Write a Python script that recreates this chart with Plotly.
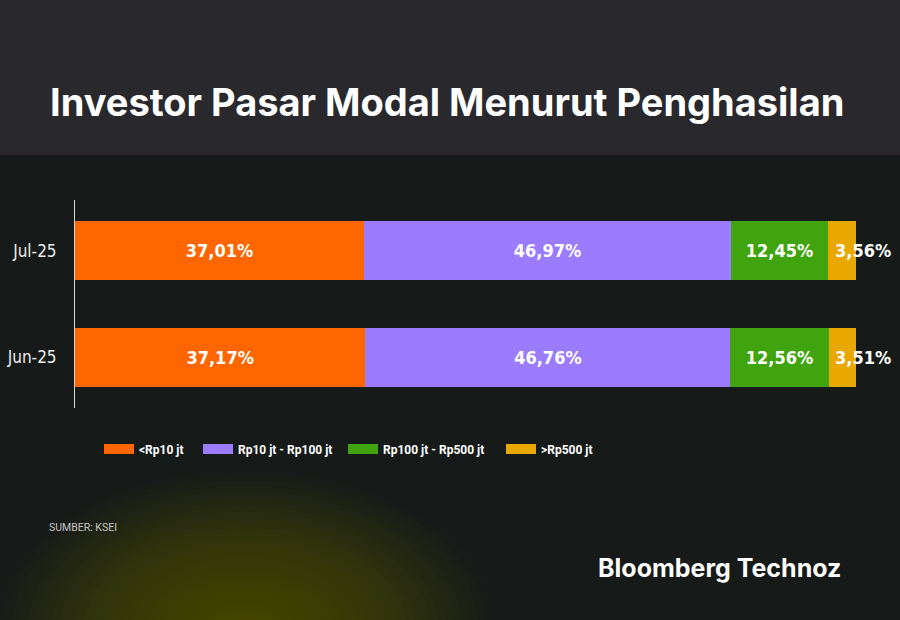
import plotly.graph_objects as go

categories = ["Jun-25", "Jul-25"]
series_names = ["<Rp10 jt", "Rp10 jt - Rp100 jt", "Rp100 jt - Rp500 jt", ">Rp500 jt"]
series_values = [
    [37.17, 37.01],
    [46.76, 46.97],
    [12.56, 12.45],
    [3.51, 3.56],
]
colors = ["#ff6600", "#9b7cfe", "#3fa40d", "#e8a800"]

def fmt(v):
    return f"{v:.2f}".replace(".", ",") + "%"

fig = go.Figure()

BG = "#161a19"
HEADER = "#29282d"
COND = "Liberation Sans Narrow, DejaVu Sans Condensed, Roboto Condensed, Arial Narrow, sans-serif"
LABEL_FONT = dict(family=COND, size=18, color="white", weight="bold")

legend_x = [99, 198, 343, 501]  # pixel starts of legend entries
legend_names = ["legend", "legend2", "legend3", "legend4"]

for i, (name, vals, col) in enumerate(zip(series_names, series_values, colors)):
    last = i == len(series_names) - 1
    fig.add_trace(go.Bar(
        y=categories, x=vals, orientation="h", name=name,
        marker=dict(color=col, line=dict(width=0)),
        text=None if last else [fmt(v) for v in vals],
        textposition="inside", insidetextanchor="middle",
        textfont=LABEL_FONT, constraintext="none",
        showlegend=False, width=0.557, hoverinfo="skip",
    ))
    fig.add_trace(go.Scatter(
        x=[None], y=[None], mode="lines", name=name,
        line=dict(color=col, width=10), showlegend=True, legend=legend_names[i],
    ))

# labels for the last (small) segment, placed just past its centre
cum = [sum(series_values[k][j] for k in range(len(series_values) - 1)) for j in range(len(categories))]
for j, cat in enumerate(categories):
    v = series_values[-1][j]
    fig.add_annotation(x=cum[j] + v / 2, y=cat, text=fmt(v), showarrow=False,
                       xanchor="center", xshift=21, font=LABEL_FONT, xref="x", yref="y")

# background: header band and soft glow
shapes = [dict(type="rect", xref="paper", yref="paper", x0=0, x1=1, y0=(620 - 155) / 620, y1=1,
               fillcolor=HEADER, line=dict(width=0), layer="below")]
cx, cy = 245 / 900, (620 - 630) / 620
n = 30
for k in range(n):
    rx = (250 - k * 8) / 900
    ry = (160 - k * 5.2) / 620
    shapes.append(dict(type="circle", xref="paper", yref="paper",
                       x0=cx - rx, x1=cx + rx, y0=cy - ry, y1=cy + ry,
                       fillcolor="#9a8000", opacity=0.02, line=dict(width=0), layer="below"))

legend_common = dict(orientation="h", y=(620 - 449) / 620, yanchor="middle", xanchor="left",
                     font=dict(family="Roboto", size=12, color="white", weight="bold"),
                     bgcolor="rgba(0,0,0,0)", itemwidth=30, borderwidth=0)

fig.update_layout(
    width=900, height=620, barmode="stack",
    paper_bgcolor=BG, plot_bgcolor="rgba(0,0,0,0)",
    margin=dict(l=0, r=0, t=0, b=0),
    shapes=shapes,
    xaxis=dict(domain=[75 / 900, 856 / 900], range=[0, 100], visible=False, fixedrange=True),
    yaxis=dict(domain=[(620 - 408) / 620, (620 - 200) / 620], range=[-0.48, 1.48],
               showline=True, linecolor="#d8d8d8", linewidth=1, showgrid=False, zeroline=False,
               ticks="", ticklabelstandoff=14, fixedrange=True,
               tickfont=dict(family=COND, size=17, color="#ececec")),
    legend=dict(x=legend_x[0] / 900, **legend_common),
    legend2=dict(x=legend_x[1] / 900, **legend_common),
    legend3=dict(x=legend_x[2] / 900, **legend_common),
    legend4=dict(x=legend_x[3] / 900, **legend_common),
    showlegend=True,
)

fig.add_annotation(text="Investor Pasar Modal Menurut Penghasilan", xref="paper", yref="paper",
                   x=447 / 900, y=(620 - 102) / 620, xanchor="center", yanchor="middle", showarrow=False,
                   font=dict(family="Inter", size=38, color="white", weight="bold"))
fig.add_annotation(text="SUMBER: KSEI", xref="paper", yref="paper",
                   x=47 / 900, y=(620 - 527) / 620, xanchor="left", yanchor="middle", showarrow=False,
                   font=dict(family="Roboto", size=10.5, color="#c4c4c4"))
fig.add_annotation(text="Bloomberg Technoz", xref="paper", yref="paper",
                   x=843 / 900, y=(620 - 568) / 620, xanchor="right", yanchor="middle", showarrow=False,
                   font=dict(family="Inter", size=25, color="white", weight="bold"))

fig.write_html("out.html", config={"displayModeBar": False},
               post_script="document.body.style.margin='0';document.body.style.background='" + BG + "';")
